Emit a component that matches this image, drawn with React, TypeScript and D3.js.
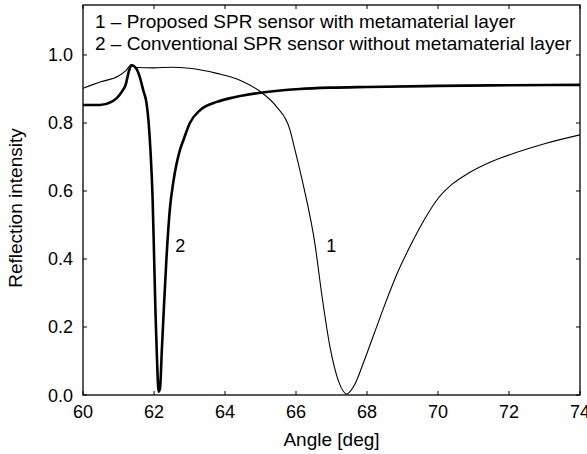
import React from "react";
import * as d3 from "d3";

const angle1 = [60.0, 60.5, 61.0, 61.2, 61.37, 61.5, 62.0, 62.5, 63.0, 63.77, 64.42, 65.0, 65.45, 65.83, 65.95, 66.2, 66.54, 66.72, 66.96, 67.2, 67.43, 67.65, 67.9, 68.2, 68.5, 68.84, 69.3, 69.65, 70.0, 70.4, 70.9, 71.5, 72.2, 73.0, 74.0];
const refl1 = [0.902, 0.921, 0.938, 0.953, 0.972, 0.963, 0.962, 0.964, 0.961, 0.946, 0.926, 0.892, 0.848, 0.78, 0.73, 0.62, 0.44, 0.3, 0.14, 0.04, 0.003, 0.03, 0.095, 0.18, 0.265, 0.355, 0.455, 0.522, 0.578, 0.62, 0.655, 0.686, 0.713, 0.739, 0.765];

const angle2 = [60.0, 60.48, 60.8, 60.95, 61.1, 61.2, 61.3, 61.37, 61.5, 61.6, 61.7, 61.79, 61.85, 61.9, 61.96, 62.0, 62.04, 62.08, 62.13, 62.17, 62.22, 62.28, 62.35, 62.45, 62.55, 62.73, 62.83, 63.01, 63.3, 63.77, 64.23, 65.0, 66.1, 67.0, 68.0, 70.0, 72.0, 74.0];
const refl2 = [0.853, 0.853, 0.862, 0.873, 0.893, 0.912, 0.955, 0.97, 0.96, 0.935, 0.895, 0.858, 0.8, 0.72, 0.58, 0.42, 0.25, 0.12, 0.01, 0.02, 0.13, 0.26, 0.4, 0.55, 0.63, 0.72, 0.75, 0.8, 0.838, 0.862, 0.875, 0.889, 0.9, 0.904, 0.906, 0.909, 0.911, 0.912];

const xTicks = [60, 62, 64, 66, 68, 70, 72, 74];
const yTicks = [0.0, 0.2, 0.4, 0.6, 0.8, 1.0];
const legendLines = ["1 \u2013 Proposed SPR sensor with metamaterial layer", "2 \u2013 Conventional SPR sensor without metamaterial layer"];
const curveLabels = [{ text: "1", x: 66.85, y: 0.44 }, { text: "2", x: 62.6, y: 0.44 }];

const W = 587, H = 454;
const left = 83, right = 580, top = 5, bottom = 395;
const font = "'Liberation Sans', Arial, sans-serif";

export default function App() {
  const x = d3.scaleLinear().domain([60, 74]).range([left, right]);
  const y = d3.scaleLinear().domain([0, 1.147]).range([bottom, top]);
  const line = d3.line<[number, number]>().x(d => x(d[0])).y(d => y(d[1])).curve(d3.curveMonotoneX);
  const d1 = line(angle1.map((a, i) => [a, refl1[i]] as [number, number])) || "";
  const d2 = line(angle2.map((a, i) => [a, refl2[i]] as [number, number])) || "";
  const tl = 4;
  return (
    <div style={{ position: "fixed", left: 0, top: 0 }}>
      <svg width={W} height={H} style={{ display: "block", background: "#fff" }} fontFamily={font}>
        <defs>
          <clipPath id="plot">
            <rect x={left} y={top} width={right - left} height={bottom - top} />
          </clipPath>
        </defs>
        <g clipPath="url(#plot)">
          <path d={d1} fill="none" stroke="#000" strokeWidth={1.1} />
          <path d={d2} fill="none" stroke="#000" strokeWidth={2.6} />
        </g>
        <rect x={left} y={top} width={right - left} height={bottom - top} fill="none" stroke="#000" strokeWidth={1.3} />
        {xTicks.map(t => (
          <g key={"x" + t}>
            <line x1={x(t)} x2={x(t)} y1={bottom} y2={bottom - tl} stroke="#000" strokeWidth={1} />
            <line x1={x(t)} x2={x(t)} y1={top} y2={top + tl} stroke="#000" strokeWidth={1} />
            <text x={x(t)} y={418} textAnchor="middle" fontSize={18} fill="#000">{t}</text>
          </g>
        ))}
        {yTicks.map(t => (
          <g key={"y" + t}>
            <line x1={left} x2={left + tl} y1={y(t)} y2={y(t)} stroke="#000" strokeWidth={1} />
            <line x1={right} x2={right - tl} y1={y(t)} y2={y(t)} stroke="#000" strokeWidth={1} />
            <text x={73} y={y(t) + 6.5} textAnchor="end" fontSize={18} fill="#000">{t.toFixed(1)}</text>
          </g>
        ))}
        {legendLines.map((s, i) => (
          <text key={s} x={95} y={28 + i * 22} fontSize={19} fill="#000">{s}</text>
        ))}
        {curveLabels.map(c => (
          <text key={c.text} x={x(c.x)} y={y(c.y) + 7} fontSize={18} fill="#000">{c.text}</text>
        ))}
        <text x={(left + right) / 2} y={446} textAnchor="middle" fontSize={19} fill="#000">Angle [deg]</text>
        <text transform={`translate(22, ${(top + bottom) / 2 + 8}) rotate(-90)`} textAnchor="middle" fontSize={19} fill="#000">Reflection intensity</text>
      </svg>
    </div>
  );
}
